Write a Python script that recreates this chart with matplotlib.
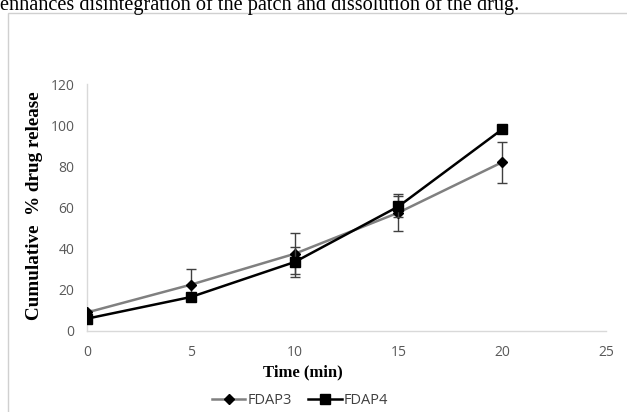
import matplotlib
matplotlib.use("Agg")
import matplotlib.pyplot as plt
from matplotlib.patches import Rectangle
from matplotlib.lines import Line2D

time_min = [0, 5, 10, 15, 20]
fdap3 = [9, 22.5, 37.5, 57.5, 82]
fdap3_err = [1, 7.5, 10, 9, 10]
fdap4 = [6, 16.5, 33.5, 60.5, 98]
fdap4_err = [0.5, 1, 7.5, 5, 1]
x_ticks = [0, 5, 10, 15, 20, 25]
y_ticks = [0, 20, 40, 60, 80, 100, 120]
series_names = ["FDAP3", "FDAP4"]
caption = "enhances disintegration of the patch and dissolution of the drug."

W, H = 627, 412
fig = plt.figure(figsize=(W / 100, H / 100), dpi=100)

# frame of the chart object
fig.patches.append(Rectangle((8 / W, -0.1), 1.2, 1 - 13 / H + 0.1, transform=fig.transFigure,
                             fill=False, edgecolor="#d0d0d0", linewidth=1.0))

fig.text(0, 1 - 10 / H, caption, fontsize=14.6, family="Liberation Serif", va="baseline", ha="left")

ax = fig.add_axes([87 / W, 1 - 331 / H, (606 - 87) / W, (331 - 84) / H])
ax.errorbar(time_min, fdap3, yerr=fdap3_err, color="#808080", linewidth=1.8, marker="D",
            markersize=5, markerfacecolor="black", markeredgecolor="black",
            ecolor="#404040", elinewidth=1.0, capsize=3.5, capthick=1.0, zorder=3)
ax.errorbar(time_min, fdap4, yerr=fdap4_err, color="black", linewidth=1.8, marker="s",
            markersize=7, markerfacecolor="black", markeredgecolor="black",
            ecolor="#404040", elinewidth=1.0, capsize=3.5, capthick=1.0, zorder=4)

ax.set_xlim(0, 25)
ax.set_ylim(0, 120)
ax.set_xticks(x_ticks)
ax.set_yticks(y_ticks)
ax.tick_params(axis="y", length=0, labelsize=10, labelcolor="#595959", pad=9)
ax.tick_params(axis="x", length=0, labelsize=10, labelcolor="#595959", pad=10)
for lbl in ax.get_xticklabels() + ax.get_yticklabels():
    lbl.set_family("Open Sans")
for s in ["top", "right"]:
    ax.spines[s].set_visible(False)
for s in ["left", "bottom"]:
    ax.spines[s].set_color("#d9d9d9")
    ax.spines[s].set_linewidth(1.0)

fig.text(303 / W, 1 - 372 / H, "Time (min)", ha="center", va="center",
         family="Liberation Serif", fontweight="bold", fontsize=12)
fig.text(35 / W, 1 - 206 / H, "Cumulative  % drug release", rotation=90, ha="center", va="center",
         family="Liberation Serif", fontweight="bold", fontsize=13.8)

handles = [
    Line2D([], [], color="#808080", linewidth=1.8, marker="D", markersize=5,
           markerfacecolor="black", markeredgecolor="black"),
    Line2D([], [], color="black", linewidth=1.8, marker="s", markersize=7,
           markerfacecolor="black", markeredgecolor="black"),
]
leg = fig.legend(handles, series_names, loc="center", bbox_to_anchor=(300 / W, 1 - 401 / H), ncol=2,
                 frameon=False, handlelength=2.3, columnspacing=1.1, handletextpad=0.15,
                 prop={"family": "Open Sans", "size": 10.5})
for t in leg.get_texts():
    t.set_color("#404040")

fig.savefig("out.png", dpi=100)
